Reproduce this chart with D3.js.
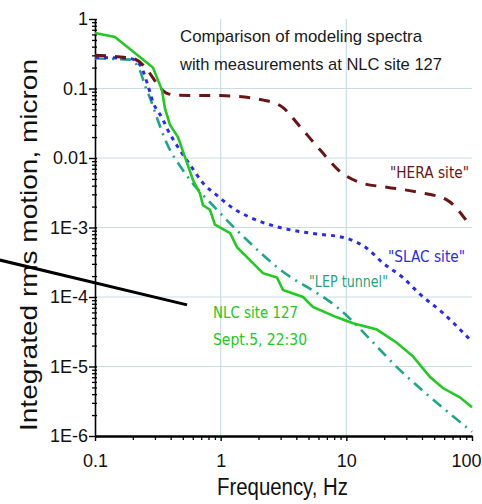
<!DOCTYPE html>
<html>
<head>
<meta charset="utf-8">
<script src="https://cdn.jsdelivr.net/npm/d3@7"></script>
<style>
  html, body { margin: 0; padding: 0; background: #fff; }
  svg { display: block; font-family: Arial, "Liberation Sans", sans-serif; }
</style>
</head>
<body>
<svg width="482" height="504"></svg>
<script>
// Axis ticks
const xTicks = [0.1, 1, 10, 100];
const xTickLabels = ["0.1", "1", "10", "100"];
const yTicks = [1, 0.1, 0.01, 1e-3, 1e-4, 1e-5, 1e-6];
const yTickLabels = ["1", "0.1", "0.01", "1E-3", "1E-4", "1E-5", "1E-6"];

// "HERA site" model
const heraFreq = [0.1, 0.2, 0.24, 0.27, 0.32, 0.37, 0.45, 1, 2.2, 3.1, 4.3, 6.2, 9, 13, 21, 38, 63, 95];
const heraVal = [0.30, 0.27, 0.22, 0.17, 0.11, 0.086, 0.08, 0.079, 0.068, 0.054, 0.028, 0.013, 0.0063, 0.0044, 0.0038, 0.0032, 0.0025, 0.0011];

// "SLAC site" model
const slacFreq = [0.1, 0.19, 0.228, 0.26, 0.289, 0.341, 0.381, 0.474, 0.57, 0.72, 0.935, 1.25, 1.71, 2.96, 5.13, 9.75, 14.6, 19.5, 28.2, 38.5, 58.6, 95];
const slacVal = [0.28, 0.27, 0.22, 0.12, 0.064, 0.038, 0.025, 0.013, 0.008, 0.0044, 0.0029, 0.0019, 0.0014, 0.001, 0.00083, 0.00071, 0.0005, 0.00031, 0.00019, 0.00011, 5.9e-5, 2.5e-5];

// "LEP tunnel" model
const lepFreq = [0.1, 0.19, 0.228, 0.25, 0.274, 0.311, 0.341, 0.374, 0.5, 0.935, 1.62, 2.8, 8.4, 28.2, 100];
const lepVal = [0.27, 0.26, 0.18, 0.11, 0.073, 0.038, 0.024, 0.016, 0.0067, 0.0018, 6.6e-4, 2.7e-4, 7.2e-5, 8.1e-6, 1.15e-6];

// NLC site 127 measurement
const nlcFreq = [0.1, 0.144, 0.289, 0.341, 0.36, 0.395, 0.457, 0.52, 0.603, 0.684, 0.723, 0.822, 0.9, 1.19, 1.35, 1.71, 2.17, 2.81, 3.13, 4.52, 5.42, 8.41, 11.3, 17.5, 25.2, 33.9, 46.2, 58.6, 80, 100];
const nlcVal = [0.63, 0.55, 0.2, 0.095, 0.052, 0.03, 0.02, 0.0103, 0.0048, 0.0031, 0.0021, 0.0018, 0.0011, 8.3e-4, 5.2e-4, 3.4e-4, 2.2e-4, 1.9e-4, 1.26e-4, 1e-4, 7.2e-5, 5.1e-5, 4.2e-5, 3.4e-5, 2.2e-5, 1.4e-5, 7.1e-6, 4.9e-6, 3.6e-6, 2.6e-6];

// Pointer line (data units)
const pointerFreq = [0.0175, 0.54];
const pointerVal = [3.4e-4, 7.7e-5];

const svg = d3.select("svg");

const x = d3.scaleLog().domain([0.1, 100]).range([95, 472]);
const y = d3.scaleLog().domain([1e-6, 1]).range([436, 19]);

// minor tick values
const xMinor = [];
[0.1, 1, 10].forEach((b) => { for (let k = 2; k <= 9; k++) xMinor.push(b * k); });
const yMinor = [];
[1e-6, 1e-5, 1e-4, 1e-3, 0.01, 0.1].forEach((b) => { for (let k = 2; k <= 9; k++) yMinor.push(b * k); });

// Grid
const grid = svg.append("g").attr("stroke", "#c9dde2").attr("stroke-width", 1.2);
grid.selectAll("line.h")
  .data(yTicks.filter((d) => d < 1 && d > 1e-6))
  .enter().append("line")
  .attr("x1", x(0.1)).attr("x2", x(100))
  .attr("y1", (d) => y(d)).attr("y2", (d) => y(d));
grid.selectAll("line.v")
  .data([1, 10])
  .enter().append("line")
  .attr("y1", y(1)).attr("y2", y(1e-6))
  .attr("x1", (d) => x(d)).attr("x2", (d) => x(d));

// Y axis
const yAxis = svg.append("g")
  .attr("transform", `translate(${x(0.1)},0)`)
  .call(d3.axisLeft(y).tickValues(yTicks).tickFormat((d, i) => yTickLabels[i])
    .tickSizeInner(6).tickSizeOuter(0).tickPadding(1));
yAxis.select(".domain").attr("stroke", "#000").attr("stroke-width", 1.6);
yAxis.selectAll(".tick line").attr("x1", 2).attr("stroke-width", 1.4);
yAxis.selectAll(".tick text").attr("font-size", 18).attr("fill", "#111")
  .attr("font-family", "Arial, 'Liberation Sans', sans-serif");

const yMinorAxis = svg.append("g")
  .attr("transform", `translate(${x(0.1)},0)`)
  .call(d3.axisLeft(y).tickValues(yMinor).tickFormat("").tickSizeInner(3).tickSizeOuter(0));
yMinorAxis.select(".domain").remove();
yMinorAxis.selectAll(".tick line").attr("x1", 2).attr("stroke-width", 1.3);

// X axis
const xAxis = svg.append("g")
  .attr("transform", `translate(0,${y(1e-6)})`)
  .call(d3.axisBottom(x).tickValues(xTicks).tickFormat((d, i) => xTickLabels[i])
    .tickSizeInner(5).tickSizeOuter(0).tickPadding(13));
xAxis.select(".domain").attr("stroke", "#000").attr("stroke-width", 2.4);
xAxis.selectAll(".tick line").attr("stroke-width", 1.4);
xAxis.selectAll(".tick text").attr("font-size", 18).attr("fill", "#111")
  .attr("font-family", "Arial, 'Liberation Sans', sans-serif");
// keep the last label inside the page
xAxis.selectAll(".tick text").filter((d) => d === 100)
  .attr("text-anchor", "end").attr("x", 9);

const xMinorAxis = svg.append("g")
  .attr("transform", `translate(0,${y(1e-6)})`)
  .call(d3.axisBottom(x).tickValues(xMinor).tickFormat("").tickSizeInner(4).tickSizeOuter(0));
xMinorAxis.select(".domain").remove();
xMinorAxis.selectAll(".tick line").attr("stroke-width", 1.3);

// Axis titles
svg.append("text")
  .attr("x", 217).attr("y", 495)
  .attr("font-size", 23).attr("fill", "#111")
  .attr("textLength", 131).attr("lengthAdjust", "spacingAndGlyphs")
  .text("Frequency, Hz");

svg.append("text")
  .attr("transform", "translate(37,431) rotate(-90)")
  .attr("font-size", 24).attr("fill", "#111")
  .attr("textLength", 372).attr("lengthAdjust", "spacingAndGlyphs")
  .text("Integrated rms motion, micron");

// Title
svg.append("text")
  .attr("x", 180).attr("y", 42)
  .attr("font-size", 17).attr("fill", "#1a1a1a")
  .attr("textLength", 242).attr("lengthAdjust", "spacingAndGlyphs")
  .text("Comparison of modeling spectra");
svg.append("text")
  .attr("x", 180).attr("y", 70)
  .attr("font-size", 17).attr("fill", "#1a1a1a")
  .attr("textLength", 262).attr("lengthAdjust", "spacingAndGlyphs")
  .text("with measurements at NLC site 127");

// Curves
const series = [
  { f: lepFreq, v: lepVal, color: "#1fa58a", width: 2.6, dash: "11,6,2,6", curve: d3.curveMonotoneX },
  { f: slacFreq, v: slacVal, color: "#2b2bef", width: 3, dash: "4,5", curve: d3.curveMonotoneX },
  { f: heraFreq, v: heraVal, color: "#6a1515", width: 3, dash: "11,9", curve: d3.curveMonotoneX },
  { f: nlcFreq, v: nlcVal, color: "#22c922", width: 2.6, dash: null, curve: d3.curveLinear },
];

series.forEach((s) => {
  const pts = s.f.map((f, i) => [f, s.v[i]]);
  svg.append("path")
    .datum(pts)
    .attr("fill", "none")
    .attr("stroke", s.color)
    .attr("stroke-width", s.width)
    .attr("stroke-dasharray", s.dash)
    .attr("d", d3.line().x((d) => x(d[0])).y((d) => y(d[1])).curve(s.curve));
});

// Curve labels
const labels = [
  { t: "\"HERA site\"", xp: 390, yp: 178, w: 79, color: "#6a1515" },
  { t: "\"SLAC site\"", xp: 388, yp: 262, w: 77, color: "#2b2bef" },
  { t: "\"LEP tunnel\"", xp: 309, yp: 287, w: 79, color: "#1fa57a" },
  { t: "NLC site 127", xp: 213, yp: 318, w: 85, color: "#22c922" },
  { t: "Sept.5, 22:30", xp: 213, yp: 345, w: 94, color: "#22c922" },
];
svg.selectAll("text.lbl")
  .data(labels)
  .enter().append("text")
  .attr("class", "lbl")
  .attr("x", (d) => d.xp).attr("y", (d) => d.yp)
  .attr("font-size", 15)
  .attr("font-family", "'DejaVu Sans', sans-serif")
  .attr("fill", (d) => d.color)
  .attr("textLength", (d) => d.w).attr("lengthAdjust", "spacingAndGlyphs")
  .text((d) => d.t);

// Black pointer line
svg.append("line")
  .attr("x1", x(pointerFreq[0])).attr("y1", y(pointerVal[0]))
  .attr("x2", x(pointerFreq[1])).attr("y2", y(pointerVal[1]))
  .attr("stroke", "#000").attr("stroke-width", 3);
</script>
</body>
</html>
